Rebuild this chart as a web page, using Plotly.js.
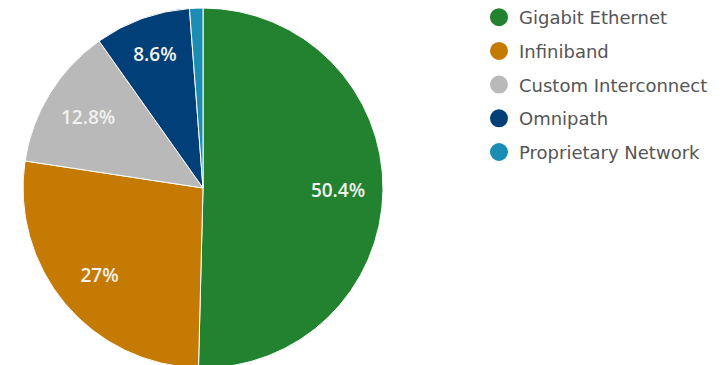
<!DOCTYPE html>
<html><head><meta charset="utf-8">
<script src="https://cdn.plot.ly/plotly-3.0.1.min.js"></script>
<style>html,body{margin:0;padding:0;overflow:hidden;background:#fff}#c{width:721px;height:371px;margin-top:-1px}</style>
</head><body><div id="c"></div>
<script>
const categories = ['Gigabit Ethernet','Infiniband','Custom Interconnect','Omnipath','Proprietary Network'];
const shares = [50.4, 27, 12.8, 8.6, 1.2];
const sliceLabels = ['50.4%','27%','12.8%','8.6%',''];
const colors = ['#22822f','#c47a03','#b9b9b9','#013f78','#1b8db3'];

const W = 721, H = 371, cx = 203, cy = 189, R = 180;
const dom = {x:[(cx-R)/W,(cx+R)/W], y:[(H-cy-R)/H,(H-cy+R)/H]};

const traces = [{
  type:'pie', values:shares, labels:categories, sort:false, direction:'clockwise', rotation:0,
  marker:{colors:colors, line:{color:'#ffffff', width:1}}, textinfo:'none', showlegend:false,
  hoverinfo:'label+percent', domain:dom
},{
  type:'pie', values:shares, labels:categories, sort:false, direction:'clockwise', rotation:0, hole:0.5,
  marker:{colors:categories.map(()=> 'rgba(0,0,0,0)'), line:{width:0}},
  text:sliceLabels, textinfo:'text', textposition:'inside', insidetextorientation:'horizontal',
  textfont:{family:'Open Sans, sans-serif', size:19, weight:600, color:'#f2f2ee'},
  showlegend:false, hoverinfo:'skip', domain:dom
}];
categories.forEach((c,i)=>traces.push({
  type:'scatter', mode:'markers', x:[null], y:[null], name:c, legendgroup:'g'+i,
  marker:{color:colors[i], size:16, symbol:'circle', line:{color:colors[i], width:2}}, hoverinfo:'skip'
}));

Plotly.newPlot('c', traces, {
  width:W, height:H, margin:{l:0,r:0,t:0,b:0}, paper_bgcolor:'#fff', plot_bgcolor:'#fff',
  xaxis:{visible:false}, yaxis:{visible:false},
  showlegend:true,
  legend:{x:479/W, xanchor:'left', y:1, yanchor:'top', tracegroupgap:7.3, itemsizing:'trace',
    font:{family:'DejaVu Sans, sans-serif', size:18, color:'#555555'}, bgcolor:'rgba(0,0,0,0)'}
}, {displayModeBar:false, staticPlot:true});
</script></body></html>
